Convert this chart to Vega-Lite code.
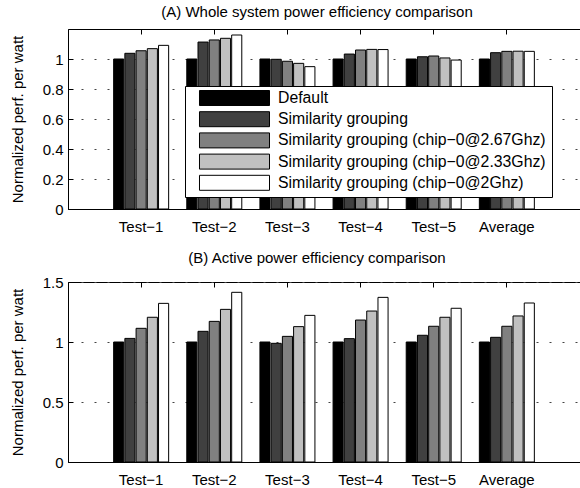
{
  "$schema": "https://vega.github.io/schema/vega-lite/v6.json",
  "padding": {"left": 9, "top": 4, "right": 0, "bottom": 0},
  "spacing": 15,
  "datasets": {
    "whole": [
      {"test": "Test−1", "config": "Default", "value": 1.0},
      {"test": "Test−1", "config": "Similarity grouping", "value": 1.038},
      {"test": "Test−1", "config": "Similarity grouping (chip−0@2.67Ghz)", "value": 1.055},
      {"test": "Test−1", "config": "Similarity grouping (chip−0@2.33Ghz)", "value": 1.069},
      {"test": "Test−1", "config": "Similarity grouping (chip−0@2Ghz)", "value": 1.091},
      {"test": "Test−2", "config": "Default", "value": 1.0},
      {"test": "Test−2", "config": "Similarity grouping", "value": 1.113},
      {"test": "Test−2", "config": "Similarity grouping (chip−0@2.67Ghz)", "value": 1.127},
      {"test": "Test−2", "config": "Similarity grouping (chip−0@2.33Ghz)", "value": 1.138},
      {"test": "Test−2", "config": "Similarity grouping (chip−0@2Ghz)", "value": 1.16},
      {"test": "Test−3", "config": "Default", "value": 1.0},
      {"test": "Test−3", "config": "Similarity grouping", "value": 0.998},
      {"test": "Test−3", "config": "Similarity grouping (chip−0@2.67Ghz)", "value": 0.985},
      {"test": "Test−3", "config": "Similarity grouping (chip−0@2.33Ghz)", "value": 0.971},
      {"test": "Test−3", "config": "Similarity grouping (chip−0@2Ghz)", "value": 0.949},
      {"test": "Test−4", "config": "Default", "value": 1.0},
      {"test": "Test−4", "config": "Similarity grouping", "value": 1.033},
      {"test": "Test−4", "config": "Similarity grouping (chip−0@2.67Ghz)", "value": 1.06},
      {"test": "Test−4", "config": "Similarity grouping (chip−0@2.33Ghz)", "value": 1.064},
      {"test": "Test−4", "config": "Similarity grouping (chip−0@2Ghz)", "value": 1.063},
      {"test": "Test−5", "config": "Default", "value": 1.0},
      {"test": "Test−5", "config": "Similarity grouping", "value": 1.015},
      {"test": "Test−5", "config": "Similarity grouping (chip−0@2.67Ghz)", "value": 1.02},
      {"test": "Test−5", "config": "Similarity grouping (chip−0@2.33Ghz)", "value": 1.007},
      {"test": "Test−5", "config": "Similarity grouping (chip−0@2Ghz)", "value": 0.993},
      {"test": "Average", "config": "Default", "value": 1.0},
      {"test": "Average", "config": "Similarity grouping", "value": 1.042},
      {"test": "Average", "config": "Similarity grouping (chip−0@2.67Ghz)", "value": 1.051},
      {"test": "Average", "config": "Similarity grouping (chip−0@2.33Ghz)", "value": 1.052},
      {"test": "Average", "config": "Similarity grouping (chip−0@2Ghz)", "value": 1.051}
    ],
    "active": [
      {"test": "Test−1", "config": "Default", "value": 1.0},
      {"test": "Test−1", "config": "Similarity grouping", "value": 1.03},
      {"test": "Test−1", "config": "Similarity grouping (chip−0@2.67Ghz)", "value": 1.114},
      {"test": "Test−1", "config": "Similarity grouping (chip−0@2.33Ghz)", "value": 1.206},
      {"test": "Test−1", "config": "Similarity grouping (chip−0@2Ghz)", "value": 1.322},
      {"test": "Test−2", "config": "Default", "value": 1.0},
      {"test": "Test−2", "config": "Similarity grouping", "value": 1.089},
      {"test": "Test−2", "config": "Similarity grouping (chip−0@2.67Ghz)", "value": 1.172},
      {"test": "Test−2", "config": "Similarity grouping (chip−0@2.33Ghz)", "value": 1.272},
      {"test": "Test−2", "config": "Similarity grouping (chip−0@2Ghz)", "value": 1.414},
      {"test": "Test−3", "config": "Default", "value": 1.0},
      {"test": "Test−3", "config": "Similarity grouping", "value": 0.989},
      {"test": "Test−3", "config": "Similarity grouping (chip−0@2.67Ghz)", "value": 1.047},
      {"test": "Test−3", "config": "Similarity grouping (chip−0@2.33Ghz)", "value": 1.128},
      {"test": "Test−3", "config": "Similarity grouping (chip−0@2Ghz)", "value": 1.222},
      {"test": "Test−4", "config": "Default", "value": 1.0},
      {"test": "Test−4", "config": "Similarity grouping", "value": 1.028},
      {"test": "Test−4", "config": "Similarity grouping (chip−0@2.67Ghz)", "value": 1.183},
      {"test": "Test−4", "config": "Similarity grouping (chip−0@2.33Ghz)", "value": 1.258},
      {"test": "Test−4", "config": "Similarity grouping (chip−0@2Ghz)", "value": 1.372},
      {"test": "Test−5", "config": "Default", "value": 1.0},
      {"test": "Test−5", "config": "Similarity grouping", "value": 1.056},
      {"test": "Test−5", "config": "Similarity grouping (chip−0@2.67Ghz)", "value": 1.131},
      {"test": "Test−5", "config": "Similarity grouping (chip−0@2.33Ghz)", "value": 1.206},
      {"test": "Test−5", "config": "Similarity grouping (chip−0@2Ghz)", "value": 1.281},
      {"test": "Average", "config": "Default", "value": 1.0},
      {"test": "Average", "config": "Similarity grouping", "value": 1.039},
      {"test": "Average", "config": "Similarity grouping (chip−0@2.67Ghz)", "value": 1.131},
      {"test": "Average", "config": "Similarity grouping (chip−0@2.33Ghz)", "value": 1.217},
      {"test": "Average", "config": "Similarity grouping (chip−0@2Ghz)", "value": 1.325}
    ]
  },
  "vconcat": [
    {
      "width": 512,
      "height": 180,
      "data": {"name": "whole"},
      "title": {"text": "(A) Whole system power efficiency comparison", "anchor": "middle", "frame": "group", "offset": 9, "dx": -7},
      "layer": [
        {
          "mark": {"type": "bar", "stroke": "black", "strokeWidth": 1},
          "encoding": {
            "x": {"field": "test", "type": "nominal", "sort": null,
                  "scale": {"paddingInner": 0.248, "paddingOuter": 0.624},
                  "axis": {"orient": "bottom", "title": null, "labelAngle": 0, "ticks": false, "labelPadding": 10}},
            "xOffset": {"field": "config", "type": "nominal", "sort": null, "scale": {"paddingInner": 0.1}},
            "y": {"field": "value", "type": "quantitative",
                  "scale": {"domain": [0, 1.2], "nice": false, "zero": true},
                  "axis": {"title": "Normalized perf. per watt", "values": [0, 0.2, 0.4, 0.6, 0.8, 1], "format": "~g"}},
            "color": {"field": "config", "type": "nominal", "sort": null,
                      "scale": {"domain": ["Default", "Similarity grouping", "Similarity grouping (chip−0@2.67Ghz)", "Similarity grouping (chip−0@2.33Ghz)", "Similarity grouping (chip−0@2Ghz)"],
                                "range": ["#000000", "#404040", "#808080", "#c0c0c0", "#ffffff"]},
                      "legend": {"orient": "none", "legendX": 117, "legendY": 57, "title": "\u2003", "titleOrient": "right", "titlePadding": 2, "titleFontSize": 15, "titleColor": "white",
                                 "fillColor": "white", "strokeColor": "black", "padding": 4,
                                 "symbolType": "M-4.667,-1H4.667V1H-4.667Z", "symbolSize": 225,
                                 "symbolStrokeColor": "black", "symbolStrokeWidth": 1, "symbolOffset": 37.5,
                                 "labelFontSize": 15.8, "labelLimit": 500, "labelOffset": 35.5, "rowPadding": 1.2}}
          }
        },
        {
          "mark": {"type": "rule", "opacity": 0},
          "encoding": {
            "x": {"field": "test", "type": "nominal", "sort": null,
                  "axis": {"orient": "top", "title": null, "labels": false, "domain": false, "ticks": true, "tickSize": -5}}
          }
        }
      ],
      "resolve": {"axis": {"x": "independent"}}
    },
    {
      "width": 512,
      "height": 180,
      "data": {"name": "active"},
      "title": {"text": "(B) Active power efficiency comparison", "anchor": "middle", "frame": "group", "offset": 9, "dx": -7},
      "layer": [
        {
          "mark": {"type": "bar", "stroke": "black", "strokeWidth": 1},
          "encoding": {
            "x": {"field": "test", "type": "nominal", "sort": null,
                  "scale": {"paddingInner": 0.248, "paddingOuter": 0.624},
                  "axis": {"orient": "bottom", "title": null, "labelAngle": 0, "ticks": false, "labelPadding": 10}},
            "xOffset": {"field": "config", "type": "nominal", "sort": null, "scale": {"paddingInner": 0.1}},
            "y": {"field": "value", "type": "quantitative",
                  "scale": {"domain": [0, 1.5], "nice": false, "zero": true},
                  "axis": {"title": "Normalized perf. per watt", "values": [0, 0.5, 1, 1.5], "format": "~g"}},
            "color": {"field": "config", "type": "nominal", "sort": null,
                      "scale": {"domain": ["Default", "Similarity grouping", "Similarity grouping (chip−0@2.67Ghz)", "Similarity grouping (chip−0@2.33Ghz)", "Similarity grouping (chip−0@2Ghz)"],
                                "range": ["#000000", "#404040", "#808080", "#c0c0c0", "#ffffff"]},
                      "legend": null}
          }
        },
        {
          "mark": {"type": "rule", "opacity": 0},
          "encoding": {
            "x": {"field": "test", "type": "nominal", "sort": null,
                  "axis": {"orient": "top", "title": null, "labels": false, "domain": false, "ticks": true, "tickSize": -5}}
          }
        }
      ],
      "resolve": {"axis": {"x": "independent"}}
    }
  ],
  "resolve": {"legend": {"color": "independent"}},
  "config": {
    "font": "Liberation Sans",
    "view": {"stroke": "black", "strokeWidth": 1},
    "title": {"fontSize": 15, "fontWeight": "normal", "color": "black", "font": "Liberation Sans"},
    "axis": {"labelFontSize": 15, "labelColor": "black", "titleFontSize": 15, "titleFontWeight": "normal", "titleColor": "black",
             "domainColor": "black", "tickColor": "black", "labelFont": "Liberation Sans", "titleFont": "Liberation Sans"},
    "axisY": {"grid": true, "gridDash": [2, 11], "gridColor": "#444", "gridWidth": 1, "tickSize": -5, "labelPadding": 10, "titlePadding": 17},
    "axisX": {"grid": false},
    "legend": {"labelFont": "Liberation Sans", "labelColor": "black", "titleFont": "Liberation Sans"}
  }
}
